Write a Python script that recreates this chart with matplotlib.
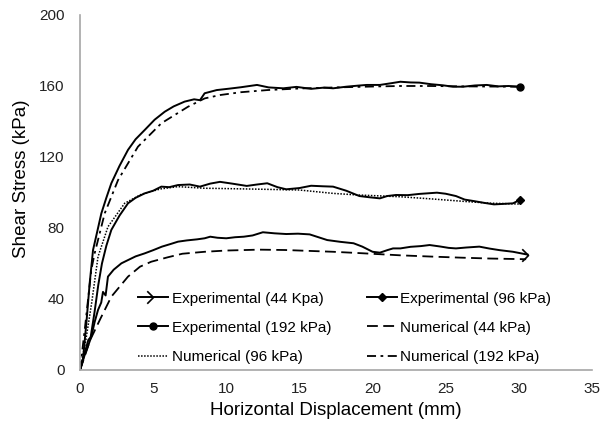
import matplotlib
matplotlib.use('Agg')
from matplotlib import pyplot as plt
from matplotlib.legend_handler import HandlerLine2D
from matplotlib.path import Path

plt.rcParams['font.family'] = ['Liberation Sans', 'DejaVu Sans']

# Experimental (44 kPa)
exp44_x = [0, 0.3, 0.57, 0.77, 1.0, 1.23, 1.45, 1.57, 1.75, 1.91, 2.3, 2.83, 3.3, 3.8, 4.42,
           5.0, 5.6, 6.2, 6.7, 7.3, 8.0, 8.52, 8.9, 9.4, 10.0, 10.6, 11.2, 11.8, 12.5, 13.3,
           14.1, 14.9, 15.7, 16.3, 16.9, 17.8, 18.7, 19.3, 20.0, 20.5, 21.0, 21.4, 21.9, 22.6,
           23.3, 23.9, 24.6, 25.2, 25.7, 26.4, 27.3, 28.0, 28.7, 29.6, 30.6]
exp44_y = [0, 9, 17, 18.8, 27, 33.8, 38, 44, 42, 52.6, 56.5, 60.1, 62, 64, 65.7,
           67.5, 69.5, 71, 72.3, 73, 73.6, 74.2, 75.1, 74.5, 74.2, 74.8, 75.1, 75.8, 77.6, 77.0,
           76.6, 76.8, 76.4, 74.8, 73.2, 72.2, 71.4, 69.5, 66.6, 66.1, 67.5, 68.5, 68.5, 69.4,
           69.8, 70.4, 69.6, 68.8, 68.5, 69.0, 69.5, 68.4, 67.5, 66.6, 65.0]

# Experimental (96 kPa)
exp96_x = [0, 0.3, 0.7, 1.0, 1.25, 1.5, 1.8, 2.14, 2.7, 3.28, 3.8, 4.42, 5.0, 5.56, 6.1, 6.7,
           7.5, 8.2, 8.9, 9.57, 10.4, 11.4, 12.1, 12.8, 13.5, 14.1, 15.0, 15.8, 16.6, 17.3,
           18.2, 19.1, 19.8, 20.5, 21.0, 21.6, 22.4, 23.2, 24.4, 25.0, 25.7, 26.3, 26.9, 27.6,
           28.3, 29.0, 29.6, 30.07]
exp96_y = [0, 8, 17, 33, 48, 60, 70, 78.9, 87, 93.9, 97, 99.5, 101, 103.3, 103, 104.2,
           104.5, 103.3, 105, 106, 105, 103.7, 104.5, 105.2, 103, 101.8, 102.5, 103.8, 103.5, 103.3,
           101, 98, 97.3, 96.7, 98, 98.6, 98.5, 99.2, 99.9, 99.3, 98, 96, 95.2, 94.2,
           93.3, 93.6, 93.9, 95.8]

# Experimental (192 kPa)
exp192_x = [0, 0.2, 0.45, 0.66, 0.89, 1.15, 1.46, 1.8, 2.14, 2.7, 3.28, 3.8, 4.42, 5.1, 5.79,
            6.4, 7.15, 7.8, 8.2, 8.52, 9.34, 10.2, 11.0, 12.1, 12.9, 13.9, 14.8, 15.8, 16.7,
            17.3, 18.2, 19.0, 19.6, 20.5, 21.3, 21.9, 22.6, 23.2, 24.0, 24.8, 25.5, 26.2, 27.0,
            27.8, 28.6, 29.3, 30.07]
exp192_y = [0, 5.6, 28, 48.8, 67.6, 77, 88.3, 97, 105.2, 115, 124, 130, 135.2, 141, 145.5,
            148.5, 151.2, 152.5, 152, 155.9, 157.7, 158.5, 159.3, 160.6, 159.2, 158.7, 159.5, 158.4, 159.1,
            158.7, 159.6, 160.2, 160.6, 160.6, 161.6, 162.4, 162.0, 161.9, 161.0, 160.4, 159.6, 159.6, 160.3,
            160.6, 159.8, 160.0, 159.6]

# Numerical (44 kPa)
num44_x = [0, 0.7, 1.4, 2.14, 3.28, 4.1, 4.87, 6.0, 7.0, 8.52, 10.0, 12.25, 14, 17.3, 19,
           21.9, 24, 26, 28, 30.5]
num44_y = [0, 17, 29, 41.3, 52.6, 58.2, 61, 63.5, 65.5, 66.6, 67.3, 67.8, 67.6, 66.6, 65.9,
           64.6, 63.9, 63.3, 62.8, 62.4]

# Numerical (96 kPa)
num96_x = [0, 0.4, 0.8, 1.23, 1.91, 3.05, 4.2, 5.5, 6.7, 8.5, 10, 12, 15, 17.3, 19, 21.9,
           24, 26.4, 28, 30.0]
num96_y = [0, 17, 38, 63.8, 80.7, 93.9, 99, 102, 103.3, 102.4, 102.2, 101.9, 101.4, 99.5, 98.6, 97.6,
           96.4, 94.9, 94, 93.5]

# Numerical (192 kPa)
num192_x = [0, 0.34, 0.77, 1.0, 1.69, 2.6, 3.96, 5.56, 7.38, 8.52, 9.57, 11, 12.8, 15, 17.5,
            20, 21.9, 24, 26, 28, 30.07]
num192_y = [0, 24, 56.3, 65.7, 88.3, 107, 125.8, 139, 148.3, 153, 154.9, 156.5, 157.7, 158.6, 159.2,
            159.7, 160, 160, 159.8, 159.7, 159.6]

labels = ['Experimental (44 Kpa)', 'Experimental (96 kPa)', 'Experimental (192 kPa)',
          'Numerical (44 kPa)', 'Numerical (96 kPa)', 'Numerical (192 kPa)']

# open arrow head, tip at the data point
arrow = Path([(-1, 1), (0, 0), (-1, -1)], [Path.MOVETO, Path.LINETO, Path.LINETO])


class EndMarker(HandlerLine2D):
    # put the legend marker at the right end of the line, like Excel
    def get_xdata(self, legend, xdescent, ydescent, width, height, fontsize):
        xdata, _ = super().get_xdata(legend, xdescent, ydescent, width, height, fontsize)
        return xdata, [xdata[-1]]


fig = plt.figure(figsize=(6.03, 4.36), dpi=100)
ax = fig.add_axes([0.1327, 0.1514, 0.849, 0.8142])

l1, = ax.plot(exp44_x, exp44_y, color='black', lw=1.4, marker=arrow, markevery=[-1],
              markersize=9, markerfacecolor='none', markeredgewidth=1.2, label=labels[0])
l2, = ax.plot(exp96_x, exp96_y, color='black', lw=1.4, marker='D', markevery=[-1],
              markersize=4, label=labels[1])
l3, = ax.plot(exp192_x, exp192_y, color='black', lw=1.4, marker='o', markevery=[-1],
              markersize=5, label=labels[2])
l4, = ax.plot(num44_x, num44_y, color='black', lw=1.3, dashes=(6, 3), label=labels[3])
l5, = ax.plot(num96_x, num96_y, color='black', lw=1.1, dashes=(1, 1), label=labels[4])
l6, = ax.plot(num192_x, num192_y, color='black', lw=1.3, dashes=(5, 2.5, 1.5, 2.5), label=labels[5])

ax.set_xlim(0, 35)
ax.set_ylim(0, 200)
ax.set_xticks(range(0, 36, 5))
ax.set_yticks(range(0, 201, 40))
ax.tick_params(length=0, labelsize=11, colors='#222222')
ax.tick_params(axis='y', pad=11)
ax.tick_params(axis='x', pad=9)

for side in ['top', 'right']:
    ax.spines[side].set_visible(False)
for side in ['left', 'bottom']:
    ax.spines[side].set_color('#a6a6a6')
    ax.spines[side].set_linewidth(1.2)

ax.set_xlabel('Horizontal Displacement (mm)', fontsize=13.5)
ax.set_ylabel('Shear Stress (kPa)', fontsize=13.5)
ax.yaxis.set_label_coords(-0.097, 0.54)

handler = EndMarker()
fig.legend([l1, l3, l5, l2, l4, l6], [labels[0], labels[2], labels[4], labels[1], labels[3], labels[5]],
           ncol=2, loc='lower left', bbox_to_anchor=(0.2289, 0.165), frameon=False,
           fontsize=11, borderpad=0, borderaxespad=0, labelspacing=1.0, handlelength=1.96,
           handletextpad=0.26, columnspacing=2.3,
           handler_map={l1: handler, l2: handler, l3: handler})

fig.savefig('out.png', dpi=100)
